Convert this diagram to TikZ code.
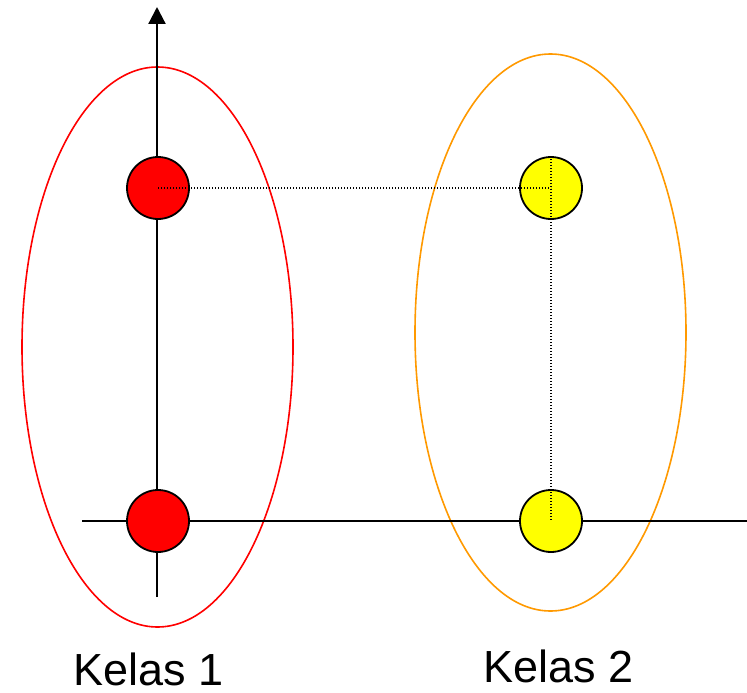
\documentclass[tikz,border=0pt]{standalone}
\usepackage{fontspec}
\setmainfont{Liberation Sans}
\usetikzlibrary{arrows.meta,shapes.geometric}
\definecolor{kred}{RGB}{255,0,0}
\definecolor{korange}{RGB}{255,153,0}
\definecolor{kyellow}{RGB}{255,255,0}
\begin{document}
\begin{tikzpicture}[x=1pt,y=-1pt,
  axisline/.style={draw=black,line width=2.2pt},
  classring/.style={ellipse,draw,line width=1.6pt,minimum width=271pt,minimum height=560pt,inner sep=0pt},
  dotball/.style={circle,draw=black,line width=1.8pt,minimum size=62pt,inner sep=0pt},
  dotline/.style={draw=black,line width=1.2pt,dash pattern=on 1.2pt off 1.8pt},
  classlabel/.style={anchor=base west,inner sep=0pt,font=\fontsize{45}{54}\selectfont}]
\useasboundingbox (0,0) rectangle (747,693);
% class ellipses
\node[classring,draw=kred] (e1) at (157.5,347) {};
\node[classring,draw=korange,minimum height=557pt] (e2) at (550.5,332.5) {};
% axes
\coordinate (yb) at (157,597);
\coordinate (yt) at (157,7);
\coordinate (xl) at (82,521);
\coordinate (xr) at (747,521);
\draw[axisline,-{Triangle[width=17pt,length=17pt]}] (yb) -- (yt);
\draw[axisline] (xl) -- (xr);
% points
\node[dotball,fill=kred] (r1) at (158,188) {};
\node[dotball,fill=kred] (r2) at (158,521) {};
\node[dotball,fill=kyellow] (y1) at (551,188) {};
\node[dotball,fill=kyellow] (y2) at (551,521) {};
% dotted guides
\draw[dotline] (r1.center) -- (y1.center);
\draw[dotline] (y1.north) -- (y2.center);
% labels
\node[classlabel] (k1) at (73,685) {Kelas 1};
\node[classlabel] (k2) at (483,682) {Kelas 2};
\end{tikzpicture}
\end{document}
